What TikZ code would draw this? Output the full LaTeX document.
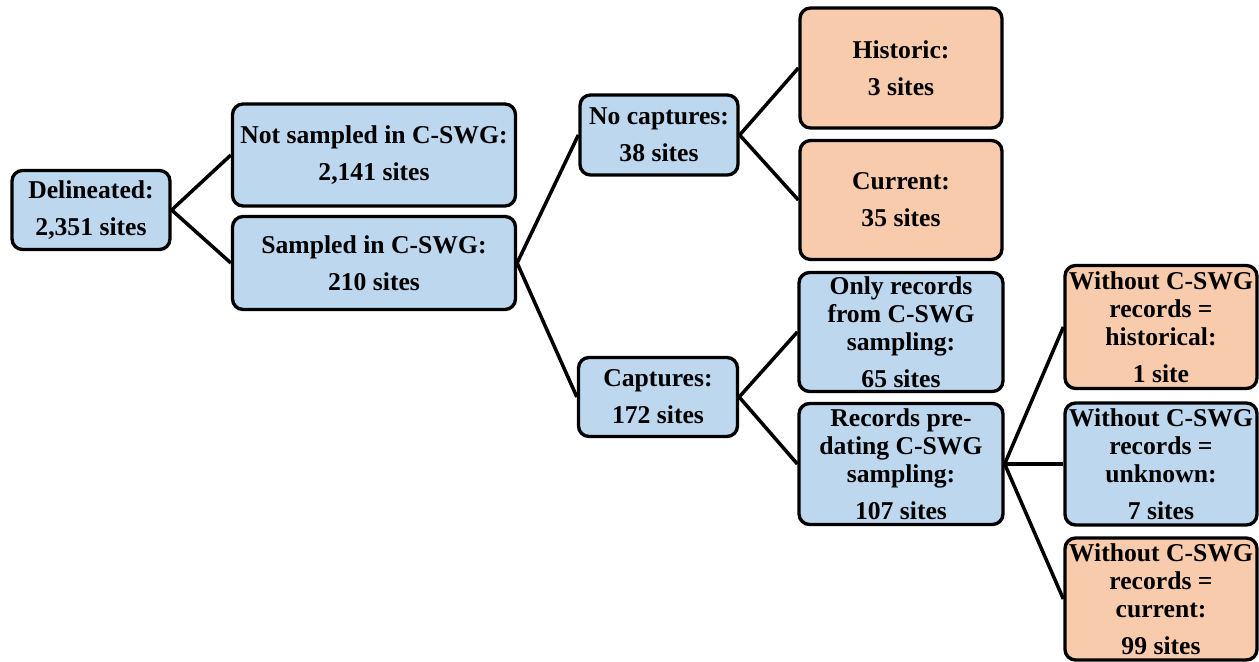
\documentclass[tikz,border=0pt]{standalone}
\usepackage{fontspec}
\setmainfont{Liberation Serif}
\usetikzlibrary{positioning}
\definecolor{boxblue}{RGB}{189,215,238}
\definecolor{boxorange}{RGB}{248,203,173}

\tikzset{
  box/.style={draw=black, line width=1.9pt, rounded corners=6pt, align=center,
    inner sep=0pt, font=\bfseries\fontsize{14.6}{16}\selectfont},
  bluebox/.style={box, fill=boxblue},
  orangebox/.style={box, fill=boxorange},
  link/.style={line width=2pt}
}

\begin{document}
\begin{tikzpicture}[x=0.02cm, y=-0.02cm]
    \useasboundingbox (0,0) rectangle (1259,662);

    % First level
    \node[bluebox, minimum width=3.16cm, minimum height=1.58cm] (delin) at (91,210) {Delineated:\\[5pt]2,351 sites};

    % Second level
    \node[bluebox, minimum width=5.66cm, minimum height=2.04cm] (notsamp) at (374,155) {Not sampled in C-SWG:\\[5pt]2,141 sites};
    \node[bluebox, minimum width=5.66cm, minimum height=1.86cm] (samp) at (374,263) {Sampled in C-SWG:\\[5pt]210 sites};

    % Third level
    \node[bluebox, minimum width=3.16cm, minimum height=1.6cm] (nocap) at (659,135) {No captures:\\[5pt]38 sites};
    \node[bluebox, minimum width=3.18cm, minimum height=1.58cm] (cap) at (658,397) {Captures:\\[5pt]172 sites};

    % Fourth level
    \node[orangebox, minimum width=4.04cm, minimum height=2.4cm] (hist) at (901,68) {Historic:\\[5pt]3 sites};
    \node[orangebox, minimum width=4.04cm, minimum height=2.38cm] (curr) at (901,200) {Current:\\[5pt]35 sites};
    \node[bluebox, minimum width=4.08cm, minimum height=2.38cm] (only) at (901,332) {Only records\\from C-SWG\\sampling:\\[5pt]65 sites};
    \node[bluebox, minimum width=4.08cm, minimum height=2.42cm] (predate) at (901,464) {Records pre-\\dating C-SWG\\sampling:\\[5pt]107 sites};

    % Fifth level
    \node[orangebox, minimum width=3.84cm, minimum height=2.46cm] (wohist) at (1161,327) {Without C-SWG\\records =\\historical:\\[5pt]1 site};
    \node[bluebox, minimum width=3.84cm, minimum height=2.44cm] (wounk) at (1161,464) {Without C-SWG\\records =\\unknown:\\[5pt]7 sites};
    \node[orangebox, minimum width=3.84cm, minimum height=2.44cm] (wocurr) at (1161,599) {Without C-SWG\\records =\\current:\\[5pt]99 sites};

    % Connectors
    \draw[link] (notsamp.west) -- (delin.east) -- (samp.west);
    \draw[link] (nocap.west) -- (samp.east) -- (cap.west);
    \draw[link] (hist.west) -- (nocap.east) -- (curr.west);
    \draw[link] (only.west) -- (cap.east) -- (predate.west);
    \draw[link] (predate.east) -- (wohist.west);
    \draw[link] (predate.east) -- (wounk.west);
    \draw[link] (predate.east) -- (wocurr.west);
\end{tikzpicture}
\end{document}
